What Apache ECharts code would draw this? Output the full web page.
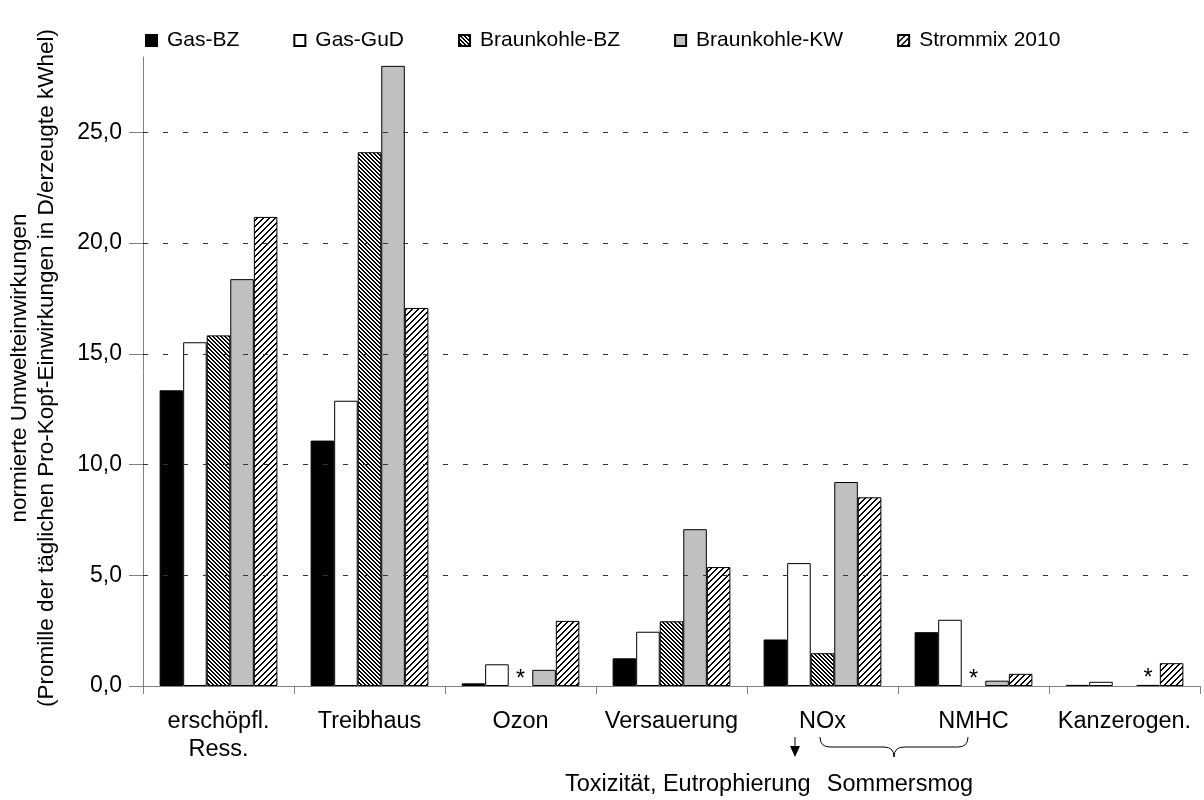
<!DOCTYPE html>
<html>
<head>
<meta charset="utf-8">
<script src="https://cdn.jsdelivr.net/npm/echarts@6/dist/echarts.min.js"></script>
<style>
  html, body { margin: 0; padding: 0; background: #fff; }
  #chart { width: 1204px; height: 800px; }
</style>
</head>
<body>
<div id="chart"></div>
<script>
// Impact categories (x axis)
const categories = ['erschöpfl.\nRess.', 'Treibhaus', 'Ozon', 'Versauerung', 'NOx', 'NMHC', 'Kanzerogen.'];
const seriesNames = ['Gas-BZ', 'Gas-GuD', 'Braunkohle-BZ', 'Braunkohle-KW', 'Strommix 2010'];

// Normalised impacts per series (null = no value, marked with *)
const gasBZ        = [13.35, 11.08, 0.12, 1.25, 2.10, 2.43, 0.05];
const gasGuD       = [15.52, 12.88, 0.98, 2.45, 5.55, 2.99, 0.19];
const braunkohleBZ = [15.83, 24.10, null, 2.92, 1.48, null, null];
const braunkohleKW = [18.37, 28.00, 0.73, 7.08, 9.21, 0.24, 0.05];
const strommix     = [21.18, 17.07, 2.94, 5.37, 8.52, 0.55, 1.03];

// Star markers: [series name, category index]
const starMarks = [['Braunkohle-BZ', 2], ['Braunkohle-BZ', 5], ['Braunkohle-KW', 6]];

const yTicks = [0, 5, 10, 15, 20, 25];

const FONT = '"Liberation Sans", Arial, sans-serif';

// Diagonal hatch tiles
function hatch(size, thick, dir) {
  const c = document.createElement('canvas');
  c.width = size; c.height = size;
  const ctx = c.getContext('2d');
  const img = ctx.createImageData(size, size);
  for (let y = 0; y < size; y++) {
    for (let x = 0; x < size; x++) {
      const k = dir === 'down'
        ? (((x - y) % size) + size) % size
        : (x + y) % size;
      const v = k < thick ? 0 : 255;
      const i = (y * size + x) * 4;
      img.data[i] = v; img.data[i + 1] = v; img.data[i + 2] = v; img.data[i + 3] = 255;
    }
  }
  ctx.putImageData(img, 0, 0);
  return c;
}

const fills = {
  'Gas-BZ': '#000000',
  'Gas-GuD': '#ffffff',
  'Braunkohle-BZ': { image: hatch(4, 2, 'down'), repeat: 'repeat' },
  'Braunkohle-KW': '#c0c0c0',
  'Strommix 2010': { image: hatch(6, 2, 'up'), repeat: 'repeat' }
};

const values = {
  'Gas-BZ': gasBZ,
  'Gas-GuD': gasGuD,
  'Braunkohle-BZ': braunkohleBZ,
  'Braunkohle-KW': braunkohleKW,
  'Strommix 2010': strommix
};

const starLabel = {
  show: true, position: 'top', formatter: '*', distance: 0, offset: [0, 6],
  fontSize: 23.5, color: '#000', fontFamily: FONT
};

function buildData(name) {
  return values[name].map((v, i) => {
    const star = starMarks.some(s => s[0] === name && s[1] === i);
    if (v === null) {
      // no value: invisible zero bar that only carries the star
      return {
        value: 0,
        itemStyle: { color: 'rgba(0,0,0,0)', borderWidth: 0 },
        label: star ? starLabel : { show: false }
      };
    }
    if (star) return { value: v, label: starLabel };
    return v;
  });
}

const barSeries = seriesNames.map(name => ({
  name: name,
  type: 'bar',
  z: 3,
  data: buildData(name),
  barGap: '0%',
  barCategoryGap: '22%',
  itemStyle: { color: fills[name], borderColor: '#000', borderWidth: 1 },
  emphasis: { disabled: true },
  animation: false
}));

// Dashed horizontal grid lines, drawn behind the bars
const gridSeries = {
  name: 'grid',
  type: 'line',
  z: 1,
  data: [],
  silent: true,
  animation: false,
  markLine: {
    silent: true,
    symbol: ['none', 'none'],
    label: { show: false },
    lineStyle: { color: '#333', type: [5, 15], width: 1 },
    emphasis: { disabled: true },
    data: yTicks.filter(v => v > 0).map(v => ({ yAxis: v }))
  }
};

const chart = echarts.init(document.getElementById('chart'), null, { renderer: 'canvas' });

// Curly brace under NOx / NMHC, built from quadratic curves
function braceParts(x1, x2, yTop, yMid, yTip) {
  const xm = (x1 + x2) / 2;
  const r = 10;
  const st = { stroke: '#000', lineWidth: 1, fill: 'none' };
  return [
    { type: 'bezierCurve', shape: { x1: x1, y1: yTop, cpx1: x1, cpy1: yMid, x2: x1 + r, y2: yMid }, style: st },
    { type: 'line', shape: { x1: x1 + r, y1: yMid, x2: xm - r, y2: yMid }, style: st },
    { type: 'bezierCurve', shape: { x1: xm - r, y1: yMid, cpx1: xm, cpy1: yMid, x2: xm, y2: yTip }, style: st },
    { type: 'bezierCurve', shape: { x1: xm, y1: yTip, cpx1: xm, cpy1: yMid, x2: xm + r, y2: yMid }, style: st },
    { type: 'line', shape: { x1: xm + r, y1: yMid, x2: x2 - r, y2: yMid }, style: st },
    { type: 'bezierCurve', shape: { x1: x2 - r, y1: yMid, cpx1: x2, cpy1: yMid, x2: x2, y2: yTop }, style: st }
  ];
}

chart.setOption({
  backgroundColor: '#fff',
  animation: false,
  textStyle: { fontFamily: FONT, color: '#000' },
  legend: {
    data: seriesNames,
    top: 25,
    left: 140,
    itemWidth: 11,
    itemHeight: 11,
    itemGap: 54,
    icon: 'rect',
    selectedMode: false,
    textStyle: { fontSize: 21, color: '#000', fontFamily: FONT, padding: [0, 0, 0, 5] }
  },
  grid: { left: 143, right: 4, top: 57, bottom: 114, containLabel: false },
  xAxis: {
    type: 'category',
    data: categories,
    axisLine: { lineStyle: { color: '#808080', width: 1 } },
    axisTick: { show: true, length: 8, lineStyle: { color: '#808080' } },
    axisLabel: { fontSize: 23.5, color: '#000', margin: 22, lineHeight: 28, fontFamily: FONT, interval: 0 },
    splitLine: { show: false }
  },
  yAxis: {
    type: 'value',
    min: 0,
    max: 28.4,
    interval: 5,
    axisLine: { show: true, lineStyle: { color: '#808080', width: 1 } },
    axisTick: { show: true, length: 14, customValues: yTicks, lineStyle: { color: '#808080' } },
    axisLabel: {
      customValues: yTicks,
      fontSize: 23, color: '#000', margin: 21, fontFamily: FONT,
      formatter: v => v.toFixed(1).replace('.', ',')
    },
    splitLine: { show: false }
  },
  series: barSeries.concat([gridSeries]),
  graphic: [
    {
      type: 'text',
      x: 33, y: 368,
      rotation: Math.PI / 2,
      style: {
        text: 'normierte Umwelteinwirkungen\n(Promille der täglichen Pro-Kopf-Einwirkungen in D/erzeugte kWhel)',
        font: '22.5px ' + FONT,
        fill: '#000',
        align: 'center',
        verticalAlign: 'middle',
        lineHeight: 27
      }
    },
    {
      // arrow pointing down under NOx
      type: 'line',
      shape: { x1: 795, y1: 737, x2: 795, y2: 748 },
      style: { stroke: '#000', lineWidth: 1 }
    },
    {
      type: 'polygon',
      shape: { points: [[790, 746], [800, 746], [795, 757]] },
      style: { fill: '#000' }
    }
  ].concat(braceParts(820, 968, 737, 747, 757)).concat([
    {
      type: 'text',
      x: 565, y: 785,
      style: {
        text: 'Toxizität, Eutrophierung',
        font: '23.5px ' + FONT,
        fill: '#000',
        align: 'left',
        verticalAlign: 'middle'
      }
    },
    {
      type: 'text',
      x: 900, y: 785,
      style: {
        text: 'Sommersmog',
        font: '23.5px ' + FONT,
        fill: '#000',
        align: 'center',
        verticalAlign: 'middle'
      }
    }
  ])
});
</script>
</body>
</html>
